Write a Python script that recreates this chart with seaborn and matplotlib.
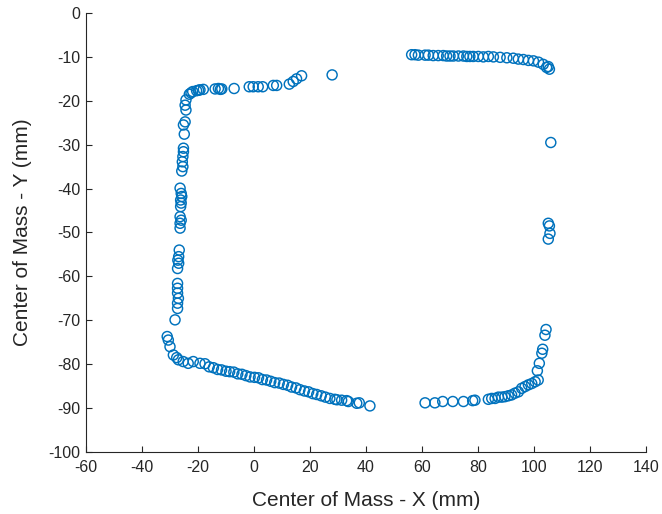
import numpy as np
import pandas as pd
import matplotlib
matplotlib.use("Agg")
import matplotlib.pyplot as plt
import seaborn as sns

# ---- data ----
top_left_x = [27.9, 17.0, 15.2, 14.0, 12.6, 8.1, 6.9, 3.1, 1.5, -0.3, -1.7, -7.1,
              -11.5, -12.0, -12.7, -13.9, -18.1, -19.3, -19.8, -20.5, -21.9, -22.5, -23.1]
top_left_y = [-14.1, -14.3, -15.0, -15.6, -16.2, -16.5, -16.5, -16.8, -16.8, -16.8, -16.8, -17.2,
              -17.3, -17.4, -17.2, -17.3, -17.4, -17.5, -17.6, -17.7, -17.9, -18.2, -18.5]

left_x = [-24.3, -24.6, -24.3, -24.6, -25.2, -24.9, -25.2, -25.2, -25.4, -25.6, -25.4, -25.8,
          -26.4, -26.0, -25.8, -26.2, -26.0, -26.2, -26.4, -26.0, -26.4, -26.4, -26.7, -26.9,
          -27.2, -26.9, -27.3, -27.3, -27.3, -27.3, -27.0, -27.3, -27.3, -28.2]
left_y = [-19.8, -21.0, -22.1, -24.8, -25.5, -27.6, -30.8, -31.6, -32.7, -33.9, -35.0, -36.0,
          -39.9, -41.1, -41.8, -42.6, -43.3, -44.1, -46.4, -47.2, -47.9, -49.0, -54.0, -55.5,
          -56.3, -57.0, -58.2, -61.6, -62.7, -63.8, -65.0, -66.1, -67.3, -69.9]

bottom_left_x = [-31.0, -30.6, -30.0, -28.8, -27.6, -27.0, -25.3, -23.5, -21.7, -19.3, -17.5,
                 -16.0, -14.5, -13.0, -11.6, -10.0, -8.7, -7.2, -5.8, -4.3, -2.9, -1.4, 0.2,
                 1.6, 3.0, 4.5, 6.0, 7.4, 9.0, 10.5, 12.0, 13.4, 15.0, 16.4, 18.0, 19.5, 21.0,
                 22.4, 24.0, 25.5, 27.1, 28.9, 29.6, 31.3, 33.1, 33.7, 36.7, 37.6, 41.4]
bottom_left_y = [-73.7, -74.5, -76.0, -77.9, -78.5, -79.0, -79.4, -79.8, -79.4, -79.8, -79.9,
                 -80.6, -80.8, -81.2, -81.3, -81.6, -81.7, -81.8, -82.2, -82.3, -82.6, -82.9, -83.0,
                 -83.1, -83.5, -83.6, -83.9, -84.2, -84.3, -84.6, -84.8, -85.2, -85.4, -85.8, -86.1,
                 -86.3, -86.7, -86.9, -87.2, -87.5, -87.8, -88.0, -88.1, -88.2, -88.3, -88.5,
                 -88.9, -88.8, -89.5]

top_right_x = [56.3, 57.5, 58.7, 61.1, 62.3, 64.0, 65.8, 67.6, 68.8, 70.0, 71.2, 73.0, 74.8,
               76.0, 77.1, 78.3, 80.1, 81.9, 83.7, 85.5, 87.9, 90.3, 92.6, 94.4, 96.2, 98.0,
               99.8, 101.6, 103.3, 104.5, 105.1, 105.5]
top_right_y = [-9.5, -9.5, -9.6, -9.6, -9.6, -9.7, -9.7, -9.7, -9.8, -9.8, -9.8, -9.8, -9.8,
               -9.9, -9.9, -9.9, -9.9, -10.0, -9.9, -10.0, -10.1, -10.2, -10.3, -10.5, -10.6,
               -10.8, -10.9, -11.2, -11.7, -12.4, -12.2, -12.8]

right_x = [106.0, 105.1, 105.5, 105.7, 105.1, 104.3, 103.9, 103.1, 102.8, 101.9, 101.2,
           101.5, 100.4, 99.2, 98.0, 96.8, 95.6, 94.4, 93.2, 92.0, 90.8, 89.6, 88.5, 87.3,
           86.1, 84.9, 83.7, 78.9, 78.1, 74.8, 71.0, 67.4, 64.6, 61.1]
right_y = [-29.5, -47.9, -48.5, -50.2, -51.5, -72.1, -73.4, -76.6, -77.5, -79.8, -81.5,
           -83.6, -84.0, -84.4, -84.7, -85.1, -85.5, -86.3, -86.6, -87.0, -87.2, -87.4, -87.5,
           -87.5, -87.8, -87.8, -88.0, -88.2, -88.3, -88.5, -88.5, -88.5, -88.8, -88.8]

x_ticks = [-60, -40, -20, 0, 20, 40, 60, 80, 100, 120, 140]
y_ticks = [-100, -90, -80, -70, -60, -50, -40, -30, -20, -10, 0]
x_label = "Center of Mass - X (mm)"
y_label = "Center of Mass - Y (mm)"

df = pd.DataFrame({
    "x": top_left_x + left_x + bottom_left_x + top_right_x + right_x,
    "y": top_left_y + left_y + bottom_left_y + top_right_y + right_y,
})

# ---- figure ----
sns.set_style("ticks")
plt.rcParams["font.family"] = ["Liberation Sans", "DejaVu Sans"]

fig = plt.figure(figsize=(6.62, 5.14), dpi=100)
ax = fig.add_axes([86 / 662, 1 - 452 / 514, 560 / 662, 439 / 514])

sns.scatterplot(data=df, x="x", y="y", ax=ax, marker="o", s=52,
                facecolor="none", edgecolor="#0072BD", linewidth=1.05, legend=False)

ax.set_xlim(-60, 140)
ax.set_ylim(-100, 0)
ax.set_xticks(x_ticks)
ax.set_yticks(y_ticks)
ax.set_xticklabels([str(v) for v in x_ticks])
ax.set_yticklabels([str(v) for v in y_ticks])

for side in ["top", "right"]:
    ax.spines[side].set_visible(False)
for side in ["left", "bottom"]:
    ax.spines[side].set_color("#262626")
    ax.spines[side].set_linewidth(0.8)

ax.tick_params(direction="in", length=4, width=0.8, colors="#262626",
               labelsize=11.5)
ax.tick_params(axis="x", pad=6)
ax.tick_params(axis="y", pad=4)
ax.set_xlabel(x_label, fontsize=15, color="#262626", labelpad=11)
ax.set_ylabel(y_label, fontsize=15, color="#262626", labelpad=12)

fig.savefig("out.png", dpi=100)
